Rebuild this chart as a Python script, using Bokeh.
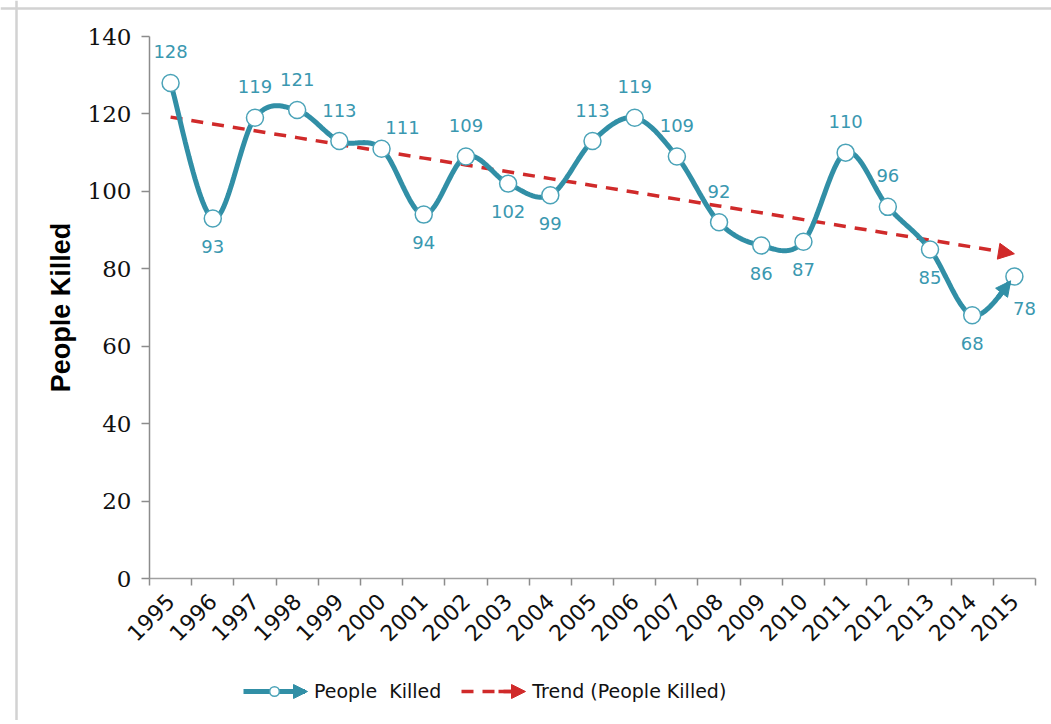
import math
import numpy as np
from bokeh.plotting import figure
from bokeh.models import (ColumnDataSource, FixedTicker, Range1d, Legend, LegendItem,
                          Arrow, NormalHead, Span, Label)
from bokeh.core.properties import value
from bokeh.embed import file_html
from bokeh.resources import INLINE

# ---------------- data ----------------
years = ["1995", "1996", "1997", "1998", "1999", "2000", "2001", "2002", "2003", "2004",
         "2005", "2006", "2007", "2008", "2009", "2010", "2011", "2012", "2013", "2014", "2015"]
people_killed = [128, 93, 119, 121, 113, 111, 94, 109, 102, 99,
                 113, 119, 109, 92, 86, 87, 110, 96, 85, 68, 78]
y_ticks = [0, 20, 40, 60, 80, 100, 120, 140]

series_name = "People  Killed"
trend_name = "Trend (People Killed)"
y_title = "People Killed"

# label placement (style): a = above, b = below, ar = above-right, br = below-right
label_pos = ["a", "b", "a", "a", "a", "ar", "b", "a", "b", "b",
             "a", "a", "a", "a", "b", "b", "a", "a", "b", "b", "br"]

TEAL = "#318fa6"
TEAL_LIGHT = "#4ba3b8"
LABEL_TEAL = "#3a98b0"
RED = "#d02a2a"

xs = np.arange(len(years), dtype=float)
ys = np.array(people_killed, dtype=float)
n = len(xs)


def bezier_pts(i, t):
    p0 = np.array([xs[max(i - 1, 0)], ys[max(i - 1, 0)]])
    p1 = np.array([xs[i], ys[i]])
    p2 = np.array([xs[i + 1], ys[i + 1]])
    p3 = np.array([xs[min(i + 2, n - 1)], ys[min(i + 2, n - 1)]])
    c1 = p1 + (p2 - p0) / 6.0
    c2 = p2 - (p3 - p1) / 6.0
    t = np.asarray(t)[:, None]
    return ((1 - t) ** 3) * p1 + 3 * ((1 - t) ** 2) * t * c1 + 3 * (1 - t) * t ** 2 * c2 + t ** 3 * p2


sx, sy = [], []
tt = np.linspace(0, 1, 25)
for i in range(n - 1):
    pts = bezier_pts(i, tt)
    if i > 0:
        pts = pts[1:]
    sx.extend(pts[:, 0])
    sy.extend(pts[:, 1])

slope, intercept = np.polyfit(xs, ys, 1)
trend_y = slope * xs + intercept

# ---------------- layout (pixels) ----------------
W, H = 1051, 720
AX_L, AX_R, AX_T, AX_B = 149, 1035, 36, 578      # axes box in canvas pixels
Y_MAX = y_ticks[-1]
PX_X = (AX_R - AX_L) / n
PX_Y = (AX_B - AX_T) / Y_MAX
x0 = -0.5 - AX_L / PX_X
x1 = n - 0.5 + (W - AX_R) / PX_X
y1 = Y_MAX + AX_T / PX_Y
y0 = -(H - AX_B) / PX_Y


def px_to_x(px):
    return -0.5 + (px - AX_L) / PX_X


def px_to_y(py):
    return (AX_B - py) / PX_Y


p = figure(width=W, height=H, output_backend="svg", toolbar_location=None,
           x_range=Range1d(x0, x1), y_range=Range1d(y0, y1), min_border=0)
p.outline_line_color = None
p.xgrid.visible = False
p.ygrid.visible = False
p.background_fill_color = "white"
p.border_fill_color = "white"

# outer chart frame (left and top edges)
p.add_layout(Span(location=px_to_x(16), dimension="height", line_color="#d2d2d2", line_width=2.5))
p.add_layout(Span(location=px_to_y(8), dimension="width", line_color="#d2d2d2", line_width=2.5))

# trend line (dashed) + arrow head
trend_r = p.line(xs, trend_y, line_color=RED, line_width=3.5, line_dash="12 9")
head_start = n - 1 - 0.3
p.add_layout(Arrow(end=NormalHead(size=16, fill_color=RED, line_color=RED),
                   x_start=head_start, y_start=slope * head_start + intercept,
                   x_end=xs[-1], y_end=trend_y[-1], line_alpha=0))

# smooth series line
line_r = p.line(sx, sy, line_color=TEAL, line_width=5)
circ_r = p.scatter(xs, ys, marker="circle", size=17, fill_color="white",
                   line_color=TEAL_LIGHT, line_width=1.5)

# arrow head at the end of the series
a0 = bezier_pts(n - 2, [0.55])[0]
a1 = bezier_pts(n - 2, [0.86])[0]
p.add_layout(Arrow(end=NormalHead(size=15, fill_color=TEAL, line_color=TEAL),
                   x_start=a0[0], y_start=a0[1], x_end=a1[0], y_end=a1[1],
                   line_color=TEAL, line_width=5))

# data labels
off = {"a": (0, -31), "b": (0, 28), "ar": (21, -21), "br": (10, 32)}
lab_src = ColumnDataSource(dict(
    x=xs, y=ys, t=[str(v) for v in people_killed],
    dx=[off[k][0] for k in label_pos], dy=[off[k][1] for k in label_pos]))
p.text(x="x", y="y", text="t", x_offset="dx", y_offset="dy", source=lab_src,
       text_font=value("DejaVu Sans"), text_font_size="18px", text_color=LABEL_TEAL,
       text_align="center", text_baseline="middle")

# axes
p.xaxis.fixed_location = 0
p.xaxis.bounds = (-0.5, n - 0.5)
p.xaxis.ticker = FixedTicker(ticks=list(xs), minor_ticks=list(np.arange(-0.5, n, 1.0)))
p.xaxis.major_label_overrides = {i: y for i, y in enumerate(years)}
p.xaxis.major_label_orientation = math.pi / 4
p.xaxis.major_tick_out = 0
p.xaxis.major_tick_in = 0
p.xaxis.minor_tick_out = 7
p.xaxis.minor_tick_in = 0
p.xaxis.minor_tick_line_color = "#8c8c8c"
p.xaxis.minor_tick_line_width = 1.5
p.xaxis.axis_line_color = "#a0a0a0"
p.xaxis.axis_line_width = 1.5
p.xaxis.major_label_text_font = "DejaVu Sans"
p.xaxis.major_label_text_font_size = "22px"
p.xaxis.major_label_text_color = "#111111"
p.xaxis.major_label_standoff = 12

p.yaxis.fixed_location = -0.5
p.yaxis.bounds = (0, Y_MAX)
p.yaxis.ticker = FixedTicker(ticks=y_ticks)
p.yaxis.major_tick_out = 8
p.yaxis.major_tick_in = 0
p.yaxis.minor_tick_line_color = None
p.yaxis.major_tick_line_color = "#8c8c8c"
p.yaxis.major_tick_line_width = 1.5
p.yaxis.axis_line_color = "#8c8c8c"
p.yaxis.axis_line_width = 1.5
p.yaxis.major_label_text_font = "DejaVu Serif"
p.yaxis.major_label_text_font_size = "23px"
p.yaxis.major_label_text_color = "#111111"
p.yaxis.major_label_standoff = 10

# y axis title
p.add_layout(Label(x=-0.5, y=Y_MAX / 2, x_offset=-(AX_L - 60), text=y_title, angle=math.pi / 2,
                   text_align="center", text_baseline="middle",
                   text_font="Liberation Sans", text_font_style="bold",
                   text_font_size="27px", text_color="#000000"))

# legend arrow heads (decoration of the legend symbols)
LEG_Y = 691
p.add_layout(Arrow(end=NormalHead(size=14, fill_color=TEAL, line_color=TEAL),
                   x_start=px_to_x(292), y_start=px_to_y(LEG_Y),
                   x_end=px_to_x(307), y_end=px_to_y(LEG_Y), line_alpha=0))
p.add_layout(Arrow(end=NormalHead(size=14, fill_color=RED, line_color=RED),
                   x_start=px_to_x(498), y_start=px_to_y(LEG_Y),
                   x_end=px_to_x(525), y_end=px_to_y(LEG_Y),
                   line_color=RED, line_width=3.5))

# legend
legend = Legend(items=[LegendItem(label=series_name, renderers=[line_r, circ_r]),
                       LegendItem(label=trend_name, renderers=[trend_r])],
                orientation="horizontal", location=(243, H - 703),
                glyph_width=62, glyph_height=24, label_standoff=9, spacing=20,
                padding=0, margin=0, border_line_color=None, background_fill_alpha=0,
                label_text_font="DejaVu Sans", label_text_font_size="19px",
                label_text_color="#111111")
p.add_layout(legend, "center")

open("out.html", "w").write(file_html(p, INLINE))
